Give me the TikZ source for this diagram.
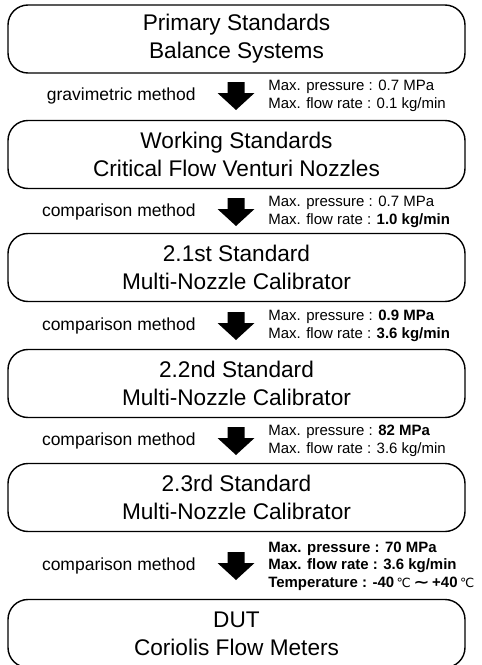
\documentclass[tikz,border=0pt]{standalone}
\usepackage{fontspec}
\setmainfont{Liberation Sans}
\newfontfamily\symfont{DejaVu Sans}
\usepackage{tikz}
\usetikzlibrary{positioning}

\begin{document}
\begin{tikzpicture}[
	stdbox/.style={
		draw,
		line width=1pt,
		rounded corners=0.5cm,
		minimum width=11.425cm,
		minimum height=1.7cm,
		align=center,
		font=\fontsize{16.1}{19.9}\selectfont
	},
	method/.style={
		inner sep=0pt,
		font=\fontsize{12.45}{15}\selectfont
	},
	spec/.style={
		inner sep=0pt,
		align=left,
		font=\fontsize{10.65}{12.6}\selectfont
	}]

	\clip (0,0) rectangle (12.025,-16.625);

	% boxes
	\node[stdbox] (b1) at (5.9125,-0.975) {Primary Standards\\Balance Systems};
	\node[stdbox] (b2) at (5.9125,-3.8625) {Working Standards\\Critical Flow Venturi Nozzles};
	\node[stdbox] (b3) at (5.9125,-6.6875) {2.1st Standard\\Multi-Nozzle Calibrator};
	\node[stdbox] (b4) at (5.9125,-9.5875) {2.2nd Standard\\Multi-Nozzle Calibrator};
	\node[stdbox] (b5) at (5.9125,-12.4375) {2.3rd Standard\\Multi-Nozzle Calibrator};
	\node[stdbox] (b6) at (5.9125,-15.8375) {DUT\\Coriolis Flow Meters};

	% arrows between the boxes
	\coordinate (a1) at (5.9,-2.4);
	\coordinate (a2) at (5.9,-5.3);
	\coordinate (a3) at (5.9,-8.15);
	\coordinate (a4) at (5.9,-11.025);
	\coordinate (a5) at (5.9,-14.15);
	\foreach \a in {a1,a2,a3,a4,a5}
		\fill (\a) ++(-0.2125,0.35) -- ++(0.425,0) -- ++(0,-0.275) -- ++(0.25,0)
			-- ++(-0.4625,-0.425) -- ++(-0.4625,0.425) -- ++(0.25,0) -- cycle;

	% methods
	\node[method, left=1cm of a1] (m1) {gravimetric method};
	\node[method, left=1cm of a2] (m2) {comparison method};
	\node[method, left=1cm of a3] (m3) {comparison method};
	\node[method, left=1cm of a4] (m4) {comparison method};
	\node[method, left=1cm of a5] (m5) {comparison method};

	% ranges
	\node[spec, right=0.8cm of a1] (s1) {Max. pressure : 0.7 MPa\\Max. flow rate : 0.1 kg/min};
	\node[spec, right=0.8cm of a2] (s2) {Max. pressure : 0.7 MPa\\Max. flow rate : \textbf{1.0 kg/min}};
	\node[spec, right=0.8cm of a3] (s3) {Max. pressure : \textbf{0.9 MPa}\\Max. flow rate : \textbf{3.6 kg/min}};
	\node[spec, right=0.8cm of a4] (s4) {Max. pressure : \textbf{82 MPa}\\Max. flow rate : 3.6 kg/min};
	\node[spec, right=0.8cm of a5, font=\fontsize{10.65}{12.4}\selectfont\bfseries] (s5)
		{Max. pressure : 70 MPa\\Max. flow rate : 3.6 kg/min\\Temperature : -40\,{\mdseries\symfont\fontsize{9}{10}\selectfont ℃}\,\scalebox{1.3}[1]{\symfont ∼}\,+40\,{\mdseries\symfont\fontsize{9}{10}\selectfont ℃}};
\end{tikzpicture}
\end{document}
